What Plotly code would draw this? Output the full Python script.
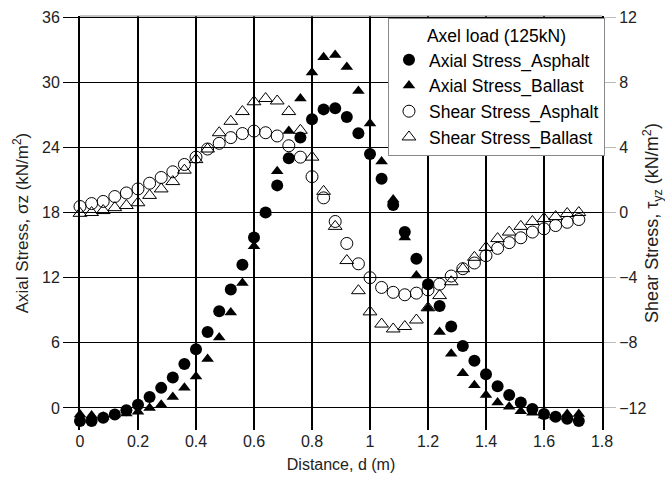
import plotly.graph_objects as go

distance = [0.00, 0.04, 0.08, 0.12, 0.16, 0.20, 0.24, 0.28, 0.32, 0.36, 0.40,
            0.44, 0.48, 0.52, 0.56, 0.60, 0.64, 0.68, 0.72, 0.76, 0.80, 0.84,
            0.88, 0.92, 0.96, 1.00, 1.04, 1.08, 1.12, 1.16, 1.20, 1.24, 1.28,
            1.32, 1.36, 1.40, 1.44, 1.48, 1.52, 1.56, 1.60, 1.64, 1.68, 1.72]

axial_asphalt = [-1.2, -1.2, -0.9, -0.6, -0.2, 0.3, 1.0, 1.85, 2.8, 4.05, 5.4,
                 7.0, 8.9, 10.9, 13.2, 15.7, 18.0, 20.5, 23.0, 24.9, 26.6, 27.5,
                 27.6, 26.8, 25.3, 23.4, 21.1, 18.7, 16.2, 13.75, 11.4, 9.4, 7.5,
                 5.7, 4.35, 3.1, 2.0, 1.2, 0.5, -0.1, -0.55, -0.8, -1.0, -1.2]

axial_ballast = [-0.6, -0.7, -0.8, -0.6, -0.5, -0.35, 0.0, 0.3, 1.0, 1.85, 2.9,
                 4.5, 6.5, 8.8, 11.5, 14.9, 18.0, 21.8, 25.5, 28.5, 30.9, 32.3,
                 32.5, 31.4, 29.2, 26.2, 22.7, 19.2, 15.7, 12.2, 9.2, 7.0, 5.0,
                 3.2, 2.1, 1.2, 0.5, 0.1, -0.3, -0.45, -0.7, -0.8, -0.55, -0.55]

shear_asphalt = [0.37, 0.55, 0.68, 0.98, 1.2, 1.45, 1.8, 2.15, 2.5, 2.95, 3.4,
                 3.9, 4.25, 4.6, 4.85, 5.0, 4.9, 4.7, 4.1, 3.4, 2.2, 0.9,
                 -0.55, -1.9, -3.15, -4.0, -4.6, -4.9, -5.05, -4.95, -4.75, -4.4, -3.9,
                 -3.45, -3.1, -2.65, -2.2, -1.85, -1.55, -1.2, -1.0, -0.8, -0.6, -0.43]

shear_ballast = [-0.05, 0.0, 0.12, 0.3, 0.43, 0.6, 1.05, 1.45, 1.9, 2.6, 3.25,
                 3.9, 4.9, 5.6, 6.2, 6.8, 7.0, 6.85, 6.2, 5.05, 3.4, 1.3,
                 -0.85, -2.95, -4.8, -6.1, -6.85, -7.15, -7.0, -6.6, -5.85, -5.1, -4.25,
                 -3.45, -2.75, -2.15, -1.6, -1.2, -0.85, -0.55, -0.37, -0.25, -0.06, 0.0]

x_ticks = [0, 0.2, 0.4, 0.6, 0.8, 1, 1.2, 1.4, 1.6, 1.8]
y_ticks = [0, 6, 12, 18, 24, 30, 36]
y2_ticks = [-12, -8, -4, 0, 4, 8, 12]

FONT = "Arial, Liberation Sans, sans-serif"

fig = go.Figure()
fig.add_trace(go.Scatter(x=distance, y=axial_asphalt, mode="markers",
                         name="Axial Stress_Asphalt", cliponaxis=False,
                         marker=dict(symbol="circle", size=12, color="black")))
fig.add_trace(go.Scatter(x=distance, y=axial_ballast, mode="markers",
                         name="Axial Stress_Ballast", cliponaxis=False,
                         marker=dict(symbol="triangle-up", size=11, color="black")))
fig.add_trace(go.Scatter(x=distance, y=shear_asphalt, mode="markers", yaxis="y2",
                         name="Shear Stress_Asphalt", cliponaxis=False,
                         marker=dict(symbol="circle-open", size=12, color="black",
                                     line=dict(width=1, color="black"))))
fig.add_trace(go.Scatter(x=distance, y=shear_ballast, mode="markers", yaxis="y2",
                         name="Shear Stress_Ballast", cliponaxis=False,
                         marker=dict(symbol="triangle-up-open", size=12, color="black",
                                     line=dict(width=1, color="black"))))

fig.update_layout(
    width=665, height=480,
    margin=dict(l=80, r=63, t=16, b=50),
    paper_bgcolor="white", plot_bgcolor="white",
    font=dict(family=FONT, size=16, color="#222"),
    showlegend=True,
    legend=dict(
        x=0.59, y=0.995, xanchor="left", yanchor="top",
        bgcolor="white", bordercolor="#888", borderwidth=1,
        font=dict(family=FONT, size=17.5, color="black"),
        title=dict(text="Axel load (125kN)", side="top center",
                   font=dict(family=FONT, size=17.5, color="black")),
        tracegroupgap=0, itemwidth=30,
    ),
    xaxis=dict(
        range=[0, 1.8], tickvals=x_ticks, ticktext=[str(v) for v in x_ticks],
        showgrid=True, gridcolor="black", gridwidth=1.5,
        zeroline=False, showline=False, ticks="", automargin=False,
        tickfont=dict(size=16, color="#222"),
        title=dict(text="Distance, d (m)", font=dict(size=16, color="#222"), standoff=9),
    ),
    yaxis=dict(
        range=[-2.03, 36.1], tickvals=y_ticks, automargin=False,
        showgrid=True, gridcolor="black", gridwidth=1.2,
        zeroline=False, showline=True, linecolor="black", linewidth=2,
        ticks="outside", ticklen=15, tickcolor="black", tickwidth=1.2,
        tickfont=dict(size=16, color="#222"),
        title=dict(text="Axial Stress, σz (kN/m<sup>2</sup>)",
                   font=dict(size=17, color="#222"), standoff=9),
    ),
    yaxis2=dict(
        range=[(-2.03 - 18) * 2 / 3, (36.1 - 18) * 2 / 3], tickvals=y2_ticks,
        overlaying="y", side="right", automargin=False,
        showgrid=False, zeroline=False,
        showline=True, linecolor="black", linewidth=2,
        ticks="outside", ticklen=12, tickcolor="#bbb", tickwidth=1,
        tickfont=dict(size=16, color="#222"),
        title=dict(text="Shear Stress, τ<sub>yz</sub> (kN/m<sup>2</sup>)",
                   font=dict(size=18, color="#222"), standoff=5),
    ),
)

# top border of plotting area
fig.add_shape(type="line", xref="paper", yref="paper", x0=0, x1=1, y0=1, y1=1,
              line=dict(color="#888", width=1))

fig.write_html("out.html")
